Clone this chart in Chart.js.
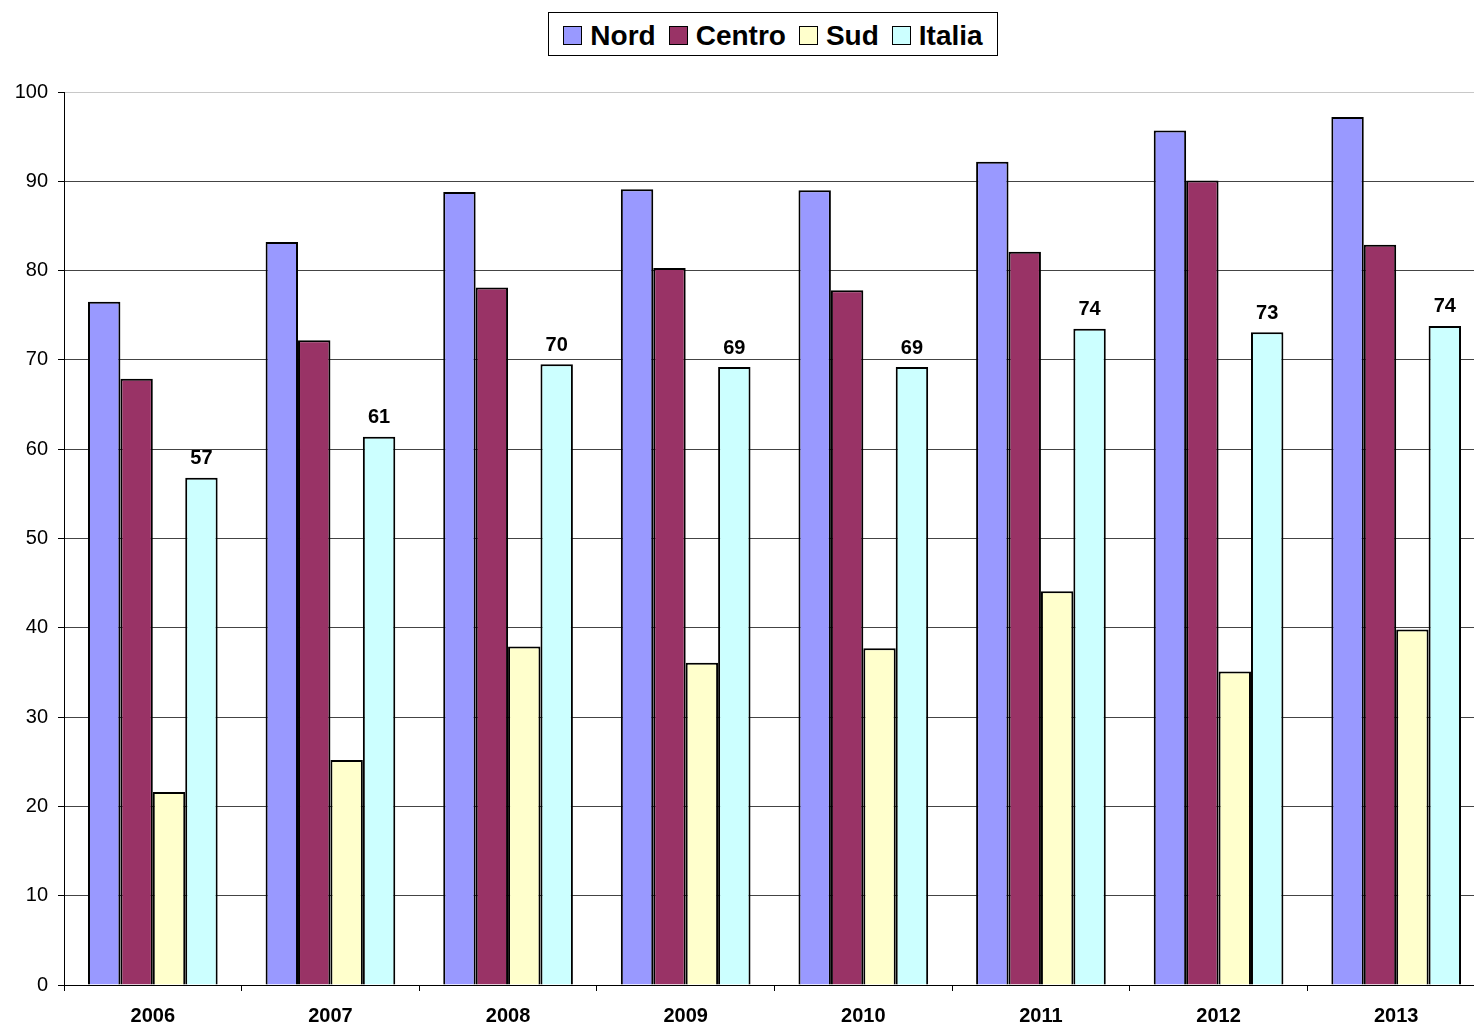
<!DOCTYPE html>
<html>
<head>
<meta charset="utf-8">
<script src="https://cdn.jsdelivr.net/npm/chart.js@4.4.0/dist/chart.umd.min.js"></script>
<style>
  html, body { margin: 0; padding: 0; background: #fff; overflow: hidden; }
  #wrap { position: relative; width: 1474px; height: 1025px; overflow: hidden; }
  #legend {
    position: absolute; left: 548px; top: 12px; width: 450px; height: 44px;
    border: 1px solid #000; box-sizing: border-box; background: #fff;
    font: bold 28px "Liberation Sans", Arial, sans-serif; color: #000;
    display: flex; align-items: center; justify-content: center; gap: 13px;
    padding-top: 3px;
  }
  #legend span.item { display: flex; align-items: center; }
  #legend span.box { display: inline-block; width: 17px; height: 17px; border: 1px solid #000; margin-right: 8px; }
</style>
</head>
<body>
<div id="wrap">
  <canvas id="grafik" width="1486" height="1025" style="width:1486px;height:1025px;display:block"></canvas>
  <div id="legend"></div>
</div>
<script>
const years = ['2006', '2007', '2008', '2009', '2010', '2011', '2012', '2013'];
const nord   = [76.5, 83.2, 88.8, 89.1, 89.0, 92.2, 95.7, 97.2];
const centro = [67.9, 72.2, 78.1, 80.3, 77.8, 82.1, 90.1, 82.9];
const sud    = [21.6, 25.2, 37.9, 36.1, 37.7, 44.1, 35.1, 39.8];
const italia = [56.8, 61.4, 69.5, 69.2, 69.2, 73.5, 73.1, 73.8];
const yTicks = [0, 10, 20, 30, 40, 50, 60, 70, 80, 90, 100];

const seriesNames = ['Nord', 'Centro', 'Sud', 'Italia'];
const colors = ['#9999FF', '#993366', '#FFFFCC', '#CCFFFF'];

// html legend
const legendEl = document.getElementById('legend');
seriesNames.forEach(function (name, i) {
    const item = document.createElement('span');
    item.className = 'item';
    item.innerHTML = '<span class="box" style="background:' + colors[i] + '"></span>' + name;
    legendEl.appendChild(item);
});

// value labels above the Italia bars
const italiaLabels = {
    id: 'italiaLabels',
    afterDatasetsDraw(chart) {
        const ctx = chart.ctx;
        const meta = chart.getDatasetMeta(3);
        ctx.save();
        ctx.font = 'bold 20px "Liberation Sans", Arial, sans-serif';
        ctx.fillStyle = '#000';
        ctx.textAlign = 'center';
        ctx.textBaseline = 'bottom';
        meta.data.forEach(function (bar, i) {
            ctx.fillText(Math.round(italia[i]), bar.x, bar.y - 9);
        });
        ctx.restore();
    }
};

const chart = new Chart(document.getElementById('grafik'), {
    type: 'bar',
    data: {
        labels: years,
        datasets: [
            { label: 'Nord', data: nord },
            { label: 'Centro', data: centro },
            { label: 'Sud', data: sud },
            { label: 'Italia', data: italia }
        ].map(function (ds, i) {
            ds.backgroundColor = colors[i];
            ds.borderColor = '#000';
            ds.borderWidth = 2;
            ds.borderSkipped = 'bottom';
            ds.categoryPercentage = 0.73;
            ds.barPercentage = 1.0;
            return ds;
        })
    },
    options: {
        responsive: false,
        animation: false,
        devicePixelRatio: 1,
        layout: { padding: { top: 92, left: 0, right: 1, bottom: 0 } },
        plugins: {
            legend: { display: false },
            title: { display: false },
            tooltip: { enabled: false }
        },
        scales: {
            x: {
                offset: true,
                afterFit: function (s) { s.height = 40; },
                grid: {
                    offset: true,
                    drawOnChartArea: false,
                    drawTicks: true,
                    tickLength: 6,
                    tickColor: '#000'
                },
                border: { color: '#000', width: 1 },
                ticks: {
                    color: '#000',
                    padding: 13,
                    font: { family: '"Liberation Sans", Arial, sans-serif', size: 20, weight: 'bold' }
                }
            },
            y: {
                min: 0,
                max: 100,
                afterFit: function (s) { s.width = 64; },
                afterBuildTicks: function (s) { s.ticks = yTicks.map(v => ({ value: v })); },
                grid: {
                    color: function (c) { return c.tick && c.tick.value === 100 ? '#c8c8c8' : '#444'; },
                    lineWidth: 1,
                    tickLength: 6,
                    tickColor: '#000'
                },
                border: { color: '#000', width: 1 },
                ticks: {
                    color: '#000',
                    padding: 10,
                    font: { family: '"Liberation Sans", Arial, sans-serif', size: 20 }
                }
            }
        }
    },
    plugins: [italiaLabels]
});
</script>
</body>
</html>
